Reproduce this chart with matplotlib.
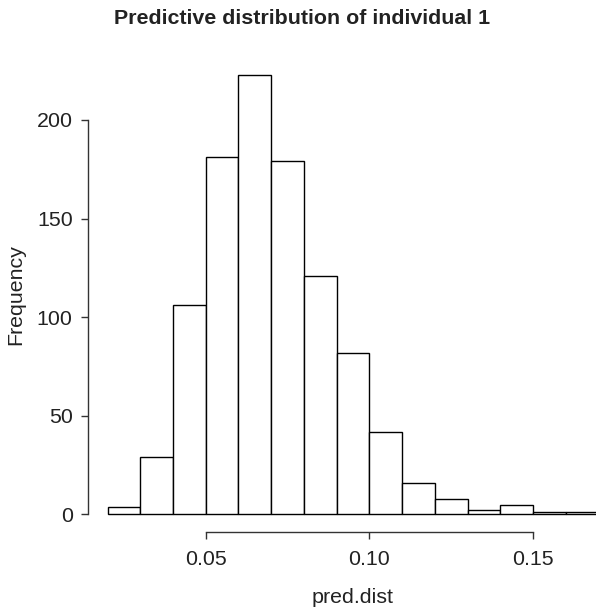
import matplotlib
matplotlib.use("Agg")
import matplotlib.pyplot as plt
import numpy as np

plt.rcParams['font.family'] = ['Liberation Sans', 'DejaVu Sans']

bin_edges = [0.02, 0.03, 0.04, 0.05, 0.06, 0.07, 0.08, 0.09, 0.10,
             0.11, 0.12, 0.13, 0.14, 0.15, 0.16, 0.17]
counts = [4, 29, 106, 181, 223, 179, 121, 82, 42, 16, 8, 2, 5, 1, 1]
x_ticks = [0.05, 0.10, 0.15]
x_tick_labels = ["0.05", "0.10", "0.15"]
y_ticks = [0, 50, 100, 150, 200]
title = "Predictive distribution of individual 1"
xlabel = "pred.dist"
ylabel = "Frequency"

W, H = 596, 607
fig = plt.figure(figsize=(W / 100, H / 100), dpi=100)
left, right, bottom, top = 88, 618, 532, 57
ax = fig.add_axes([left / W, 1 - bottom / H, (right - left) / W, (bottom - top) / H])

edges = np.array(bin_edges)
ax.bar(edges[:-1], counts, width=np.diff(edges), align='edge',
       facecolor='white', edgecolor='black', linewidth=1.0)

xr = edges[-1] - edges[0]
ax.set_xlim(edges[0] - 0.04 * xr, edges[-1] + 0.04 * xr)
yr = max(counts)
ax.set_ylim(-0.04 * yr, yr * 1.04)

for s in ['top', 'right']:
    ax.spines[s].set_visible(False)
ax.spines['left'].set_bounds(0, 200)
ax.spines['bottom'].set_bounds(0.05, 0.15)
for s in ['left', 'bottom']:
    ax.spines[s].set_linewidth(1.0)
    ax.spines[s].set_color('#333333')

fs = 15.4
ax.set_xticks(x_ticks)
ax.set_xticklabels(x_tick_labels)
ax.set_yticks(y_ticks)
ax.tick_params(axis='both', length=5, width=1.0, color='#333333',
               labelsize=fs, labelcolor='#222222')
ax.tick_params(axis='x', pad=8)
ax.tick_params(axis='y', pad=6)

ax.set_xlabel(xlabel, fontsize=fs, color='#222222', labelpad=13.5)
ax.set_ylabel(ylabel, fontsize=fs, color='#222222', labelpad=8)

fig.text(302 / W, 1 - 19 / H, title, ha='center', va='center',
         fontsize=fs, fontweight='bold', color='#222222')

fig.savefig("out.png", dpi=100)
